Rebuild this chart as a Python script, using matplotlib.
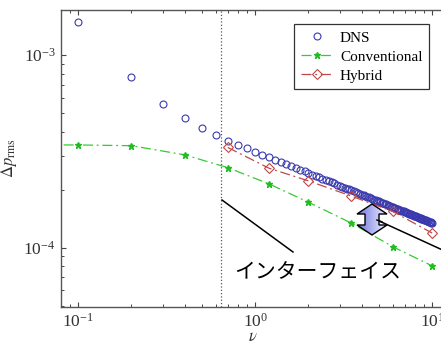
# Pressure fluctuation vs nu: DNS / conventional / hybrid model
import numpy as np
import matplotlib
matplotlib.use('Agg')
import matplotlib.pyplot as plt
from matplotlib.patches import Polygon
from matplotlib.ticker import NullFormatter

plt.rcParams['font.family'] = ['Liberation Serif', 'DejaVu Serif']
plt.rcParams['mathtext.fontset'] = 'stix'

# DNS data (step 0.1)
dns_x = np.round(np.arange(0.1, 10.05, 0.1), 1)
dns_y = np.array([
    14.8, 7.66, 5.55, 4.71, 4.20, 3.84,
    3.594, 3.421, 3.275, 3.150, 3.041, 2.945, 2.859, 2.781, 2.711, 2.647,
    2.589, 2.534, 2.484, 2.437, 2.394, 2.353, 2.315, 2.278, 2.244, 2.212,
    2.181, 2.152, 2.124, 2.098, 2.073, 2.048, 2.025, 2.003, 1.982, 1.961,
    1.941, 1.922, 1.904, 1.886, 1.869, 1.852, 1.836, 1.821, 1.806, 1.791,
    1.777, 1.763, 1.750, 1.737, 1.724, 1.711, 1.699, 1.688, 1.676, 1.665,
    1.654, 1.644, 1.633, 1.623, 1.613, 1.604, 1.594, 1.585, 1.576, 1.567,
    1.558, 1.550, 1.541, 1.533, 1.525, 1.517, 1.510, 1.502, 1.495, 1.487,
    1.480, 1.473, 1.466, 1.459, 1.453, 1.446, 1.440, 1.433, 1.427, 1.421,
    1.415, 1.409, 1.403, 1.397, 1.391, 1.386, 1.380, 1.375, 1.369, 1.364,
    1.359, 1.354, 1.349, 1.344]) * 1e-4

conv_x = [0.05, 0.1, 0.2, 0.4, 0.7, 1.2, 2.0, 3.5, 6.0, 10.0]
conv_y = [3.41e-4, 3.41e-4, 3.38e-4, 3.03e-4, 2.60e-4, 2.14e-4, 1.72e-4, 1.34e-4, 1.01e-4, 8.04e-5]

hyb_x = [0.7, 1.2, 2.0, 3.5, 6.0, 10.0]
hyb_y = [3.31e-4, 2.58e-4, 2.22e-4, 1.85e-4, 1.54e-4, 1.19e-4]

interface_nu = 0.64

W, H = 441, 345
fig = plt.figure(figsize=(W / 100, H / 100), dpi=100)
ax = fig.add_axes([61 / W, 38 / H, 385.2 / W, 297 / H])

ax.plot(dns_x, dns_y, 'o', mfc='none', mec='#3a3aae', ms=5, mew=0.8, label='DNS')
ax.plot(conv_x, conv_y, color='#33cc33', lw=0.9, ls=(0, (8, 3, 1.5, 3)),
        marker='*', ms=4.5, mec='#22bb22', mfc='#22bb22', label='Conventional')
ax.plot(hyb_x, hyb_y, color='#c04848', lw=0.9, ls=(0, (8, 3, 1.5, 3)),
        marker='D', ms=5, mfc='none', mec='#c04848', mew=0.8, label='Hybrid')
ax.axvline(interface_nu, color='#555555', ls=':', lw=0.9)

ax.set_xscale('log')
ax.set_yscale('log')
ax.set_xlim(0.08, 12)
ax.set_ylim(4.92e-5, 1.71e-3)
ax.yaxis.set_minor_formatter(NullFormatter())
ax.xaxis.set_minor_formatter(NullFormatter())
ax.tick_params(which='both', direction='in', top=True, right=True,
               labelsize=12.5, labelcolor='#333333', color='#444444', pad=4)
ax.tick_params(which='major', length=3.5, width=0.8)
ax.tick_params(which='minor', length=2, width=0.7)
for s in ax.spines.values():
    s.set_color('#555555')
    s.set_linewidth(1.0)

ax.set_xlabel(r'$\nu$', fontsize=12, color='#333333')
ax.xaxis.set_label_coords(0.498, -0.075)
ax.set_ylabel(r'$\Delta p_{\mathrm{rms}}$', fontsize=12, color='#333333')
ax.yaxis.set_label_coords(-0.108, 0.5)

leg = ax.legend(loc='upper left', bbox_to_anchor=(0.605, 0.953), fontsize=11,
                fancybox=False, edgecolor='#333333', framealpha=1,
                handlelength=2.1, handletextpad=0.45, borderpad=0.45,
                borderaxespad=0, labelspacing=0.35, numpoints=1)
leg.get_frame().set_linewidth(0.9)

# overlay in pixel coordinates for the annotations
ov = fig.add_axes([0, 0, 1, 1])
ov.set_xlim(0, W)
ov.set_ylim(H, 0)
ov.axis('off')
ov.patch.set_alpha(0)

ov.plot([222, 293], [200, 252], color='black', lw=1.1)
ov.plot([377, 460], [220, 258], color='black', lw=1.1, clip_on=False)

ov.text(318, 272, 'インターフェイス', fontsize=15, ha='center', va='center',
        family=['Noto Sans CJK JP', 'DejaVu Sans'])

# double arrow with gradient fill
cx = 372
arrow_pts = [(cx, 204), (cx + 15, 214), (cx + 7, 214), (cx + 7, 225), (cx + 15, 225),
             (cx, 235), (cx - 15, 225), (cx - 7, 225), (cx - 7, 214), (cx - 15, 214)]
poly = Polygon(arrow_pts, closed=True, fc='none', ec='black', lw=1.0, zorder=3)
ov.add_patch(poly)
grad = np.linspace(0, 1, 64).reshape(1, -1)
cmap = matplotlib.colors.LinearSegmentedColormap.from_list('g', ['#6f74e0', '#eef0ff'])
im = ov.imshow(grad, extent=[cx - 15, cx + 15, 235, 204], cmap=cmap, aspect='auto', zorder=2)
im.set_clip_path(poly)
ov.set_xlim(0, W)
ov.set_ylim(H, 0)
ov.plot([377, 382], [220, 222], color='black', lw=1.1, zorder=4)

fig.savefig('out.png', dpi=100)
